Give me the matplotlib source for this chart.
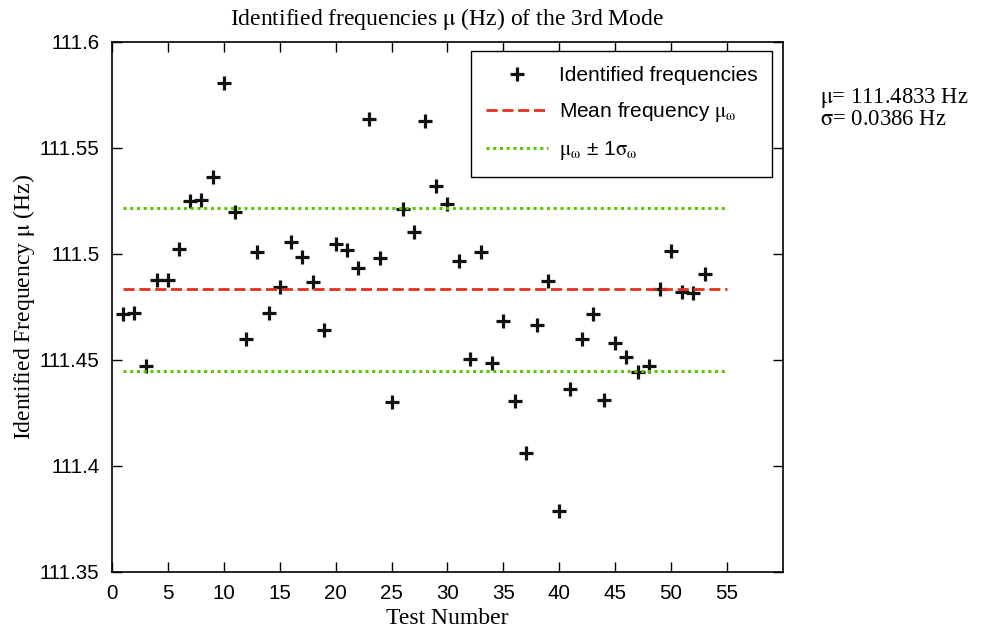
import numpy as np
import matplotlib
matplotlib.use("Agg")
import matplotlib.pyplot as plt

plt.rcParams["font.family"] = ["Liberation Sans", "DejaVu Sans"]
plt.rcParams["mathtext.fontset"] = "stix"

# data
test_number = list(range(1, 54))
frequencies = [
    111.4716, 111.4720, 111.4472, 111.4877, 111.4877, 111.5022, 111.5250, 111.5255,
    111.5365, 111.5805, 111.5200, 111.4598, 111.5008, 111.4720, 111.4846, 111.5058,
    111.4984, 111.4869, 111.4642, 111.5046, 111.5019, 111.4935, 111.5635, 111.4980,
    111.4303, 111.5212, 111.5102, 111.5629, 111.5322, 111.5236, 111.4967, 111.4503,
    111.5008, 111.4487, 111.4685, 111.4307, 111.4063, 111.4664, 111.4874, 111.3788,
    111.4365, 111.4598, 111.4716, 111.4311, 111.4579, 111.4516, 111.4445, 111.4473,
    111.4833, 111.5014, 111.4822, 111.4815, 111.4904,
]
mean_freq = 111.4833
std_freq = 0.0386
line_x = [1, 55]

fig = plt.figure(figsize=(9.83, 6.3), dpi=100)
ax = fig.add_axes([0.1139, 0.0921, 0.6826, 0.8413])

ax.plot(test_number, frequencies, linestyle="none", marker="+", color="#111111",
        markersize=10, markeredgewidth=2.3, label="Identified frequencies")
ax.plot(line_x, [mean_freq, mean_freq], linestyle=(0, (4, 1.7)), color="#e0301e",
        linewidth=2, label=r"Mean frequency $\mathrm{\mu_\omega}$")
ax.plot(line_x, [mean_freq + std_freq] * 2, linestyle=(0, (1, 1.2)), color="#5cc400",
        linewidth=2.2, label=r"$\mathrm{\mu_\omega}$ ± 1$\mathrm{\sigma_\omega}$")
ax.plot(line_x, [mean_freq - std_freq] * 2, linestyle=(0, (1, 1.2)), color="#5cc400",
        linewidth=2.2)

ax.set_xlim(0, 60)
ax.set_ylim(111.35, 111.6)
ax.set_xticks(range(0, 56, 5))
ax.set_yticks([111.35, 111.4, 111.45, 111.5, 111.55, 111.6])
ax.set_yticklabels(["111.35", "111.4", "111.45", "111.5", "111.55", "111.6"])
ax.tick_params(direction="in", top=True, right=True, length=7, width=1,
               labelsize=14.8)
ax.tick_params(axis="y", pad=9)
ax.tick_params(axis="x", pad=9)
for s in ax.spines.values():
    s.set_linewidth(1.2)

ax.set_title(r"Identified frequencies $\mathrm{\mu}$ (Hz) of the 3rd Mode",
             family="Liberation Serif", fontsize=17, pad=12)
ax.set_xlabel("Test Number", family="Liberation Serif", fontsize=17, labelpad=3)
ax.set_ylabel(r"Identified Frequency $\mathrm{\mu}$ (Hz)", family="Liberation Serif",
              fontsize=17, labelpad=2)

leg = ax.legend(loc="upper right", bbox_to_anchor=(0.99, 0.99), fontsize=15,
                fancybox=False, edgecolor="black", framealpha=1, borderpad=0.7,
                handlelength=3.0, labelspacing=0.72, handletextpad=0.5,
                borderaxespad=0.2)
leg.get_frame().set_linewidth(1)

fig.text(0.834, 0.828, r"$\mathrm{\mu}$= 111.4833 Hz" + "\n" + r"$\mathrm{\sigma}$= 0.0386 Hz",
         family="Liberation Serif", fontsize=16.3, va="center", linespacing=0.95)

fig.savefig("out.png", dpi=100)
